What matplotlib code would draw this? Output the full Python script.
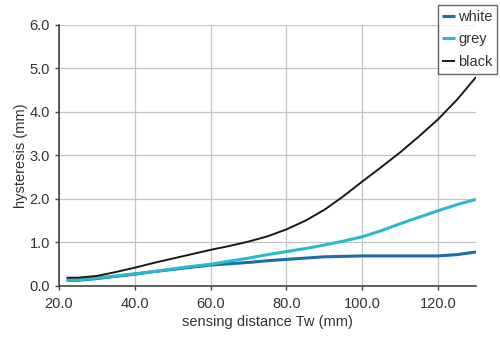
import matplotlib
matplotlib.use("Agg")
import matplotlib.pyplot as plt

plt.rcParams['font.family'] = ['Liberation Sans', 'DejaVu Sans']

distance = [22, 25, 30, 35, 40, 45, 50, 55, 60, 65, 70, 75, 80, 85, 90, 95,
            100, 105, 110, 115, 120, 125, 130]
white = [0.13, 0.13, 0.17, 0.22, 0.27, 0.33, 0.38, 0.43, 0.48, 0.51, 0.54, 0.58,
         0.61, 0.64, 0.67, 0.68, 0.69, 0.69, 0.69, 0.69, 0.69, 0.72, 0.78]
grey = [0.14, 0.14, 0.18, 0.23, 0.28, 0.33, 0.39, 0.45, 0.50, 0.57, 0.64, 0.72,
        0.79, 0.86, 0.94, 1.03, 1.13, 1.27, 1.43, 1.58, 1.73, 1.87, 1.99]
black = [0.19, 0.19, 0.23, 0.32, 0.42, 0.53, 0.63, 0.73, 0.83, 0.92, 1.02, 1.14,
         1.30, 1.50, 1.75, 2.06, 2.40, 2.73, 3.07, 3.44, 3.83, 4.28, 4.80]

x_ticks = [20, 40, 60, 80, 100, 120]
y_ticks = [0, 1, 2, 3, 4, 5, 6]

text_col = '#333333'

fig = plt.figure(figsize=(5, 3.5), dpi=100)
ax = fig.add_axes([0.118, 0.183, 0.834, 0.746])

ax.plot(distance, white, color='#1b6fa6', lw=2.2, label='white', solid_capstyle='butt')
ax.plot(distance, grey, color='#2cb9cd', lw=2.2, label='grey', solid_capstyle='butt')
ax.plot(distance, black, color='#1a1a1a', lw=1.4, label='black', solid_capstyle='butt')

ax.set_xlim(20, 130)
ax.set_ylim(0, 6)
ax.set_xticks(x_ticks)
ax.set_xticklabels([f'{v:.1f}' for v in x_ticks])
ax.set_yticks(y_ticks)
ax.set_yticklabels([f'{v:.1f}' for v in y_ticks])
ax.grid(True, color='#c4c4c4', lw=0.9)
ax.set_axisbelow(True)

for side in ('top', 'right'):
    ax.spines[side].set_visible(False)
for side in ('left', 'bottom'):
    ax.spines[side].set_color('#444444')
    ax.spines[side].set_linewidth(1.2)

ax.tick_params(axis='both', colors='#444444', labelcolor=text_col,
               labelsize=10.5, length=3, width=1, direction='out')
ax.tick_params(axis='x', pad=5)

ax.set_xlabel('sensing distance Tw (mm)', fontsize=10.5, color=text_col, labelpad=3)
ax.set_ylabel('hysteresis (mm)', fontsize=10.5, color=text_col, labelpad=1)

leg = ax.legend(loc='upper right', bbox_to_anchor=(1.05, 1.075), fontsize=10.5,
                frameon=True, fancybox=False, handlelength=0.9, handletextpad=0.2,
                borderpad=0.3, labelspacing=0.6, borderaxespad=0)
leg.get_frame().set_edgecolor('#444444')
leg.get_frame().set_linewidth(1.0)
for t in leg.get_texts():
    t.set_color(text_col)

fig.savefig('out.png', dpi=100, facecolor='white')
